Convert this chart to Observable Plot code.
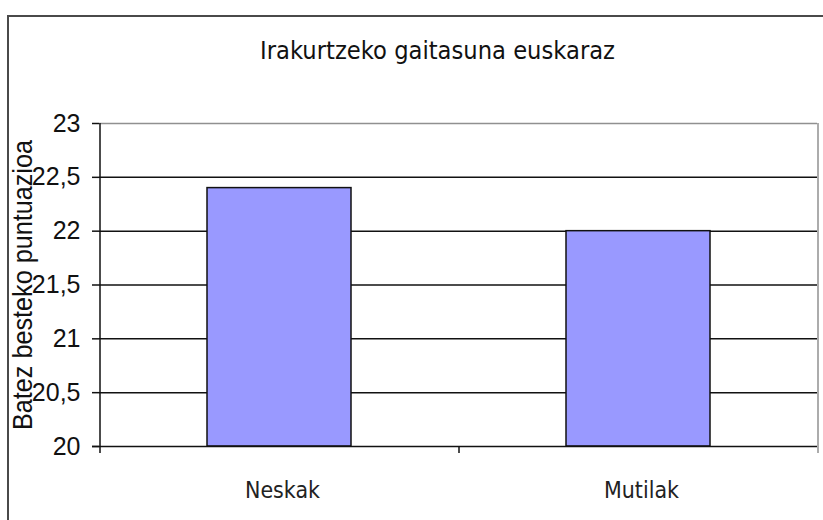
<!DOCTYPE html>
<html>
<head>
<meta charset="utf-8">
<script src="https://cdn.jsdelivr.net/npm/d3@7"></script>
<script src="https://cdn.jsdelivr.net/npm/@observablehq/plot@0.6"></script>
<style>
  html, body { margin: 0; padding: 0; background: #fff; overflow: hidden; }
  #wrap { position: relative; width: 823px; height: 520px; }
  #frame { position: absolute; left: 7px; top: 15px; width: 900px; height: 600px;
           border-left: 2px solid #4a4a4a; border-top: 2px solid #4a4a4a; pointer-events: none; }
</style>
</head>
<body>
<div id="wrap"><div id="frame"></div></div>
<script>
const title = "Irakurtzeko gaitasuna euskaraz";
const yLabel = "Batez besteko puntuazioa";
const categories = ["Neskak", "Mutilak"];
const values = [22.4, 22.0];
const yTicks = [20, 20.5, 21, 21.5, 22, 22.5, 23];
const yTickLabels = ["20", "20,5", "21", "21,5", "22", "22,5", "23"];
const gridValues = [20.5, 21, 21.5, 22, 22.5];

const data = categories.map((c, i) => ({category: c, value: values[i]}));
const half = 179.5; // half category step in px

const chart = Plot.plot({
  width: 823,
  height: 520,
  marginLeft: 99,
  marginRight: 6,
  marginTop: 123,
  marginBottom: 74,
  style: {background: "white", fontFamily: "Liberation Sans, Arial, sans-serif", color: "black"},
  x: {type: "band", domain: categories, paddingInner: 0.6, paddingOuter: 0.3},
  y: {domain: [20, 23]},
  marks: [
    Plot.ruleY(gridValues, {stroke: "#111", strokeWidth: 1.5}),
    Plot.ruleY([23], {stroke: "#909090", strokeWidth: 1.5}),
    Plot.ruleX([categories[1]], {dx: half, y1: 23, y2: 20, insetBottom: -7, stroke: "#909090", strokeWidth: 1.5}),
    Plot.barY(data, {x: "category", y1: 20, y2: "value", fill: "#9999FF", stroke: "#111", strokeWidth: 1.5}),
    Plot.ruleY([20], {insetLeft: -7, stroke: "#111", strokeWidth: 1.5}),
    Plot.ruleX([categories[0]], {dx: -half, y1: 23, y2: 20, insetBottom: -7, stroke: "#111", strokeWidth: 1.5}),
    Plot.ruleX([categories[1]], {dx: -half, y1: 20, y2: 20, insetBottom: -7, stroke: "#111", strokeWidth: 1.5}),
    Plot.axisY(yTicks, {tickSize: 7, tickPadding: 12, tickFormat: d => yTickLabels[yTicks.indexOf(d)],
      fontSize: 25, fontFamily: "Liberation Sans, Arial, sans-serif", stroke: "#111", strokeWidth: 1.5, fill: "#111", label: null}),
    Plot.axisX({tickSize: 0, tickPadding: 35, dx: 3, fontSize: 23, fontFamily: "DejaVu Sans, sans-serif", fill: "#222", label: null}),
    Plot.text([title], {frameAnchor: "top", textAnchor: "middle", lineAnchor: "middle", dx: -21, dy: -71.7,
      fontSize: 24, fontFamily: "DejaVu Sans, sans-serif", fill: "#111"}),
    Plot.text([yLabel], {frameAnchor: "left", textAnchor: "middle", lineAnchor: "middle", rotate: -90, dx: -76,
      fontSize: 28, fontFamily: "Liberation Sans, Arial, sans-serif", fill: "#111"})
  ]
});

document.getElementById("wrap").insertBefore(chart, document.getElementById("frame"));

const svg = d3.select(chart);
const fit = (txt, len) => svg.selectAll("text").filter(function() { return this.textContent === txt; })
  .attr("textLength", len).attr("lengthAdjust", "spacingAndGlyphs");
fit(title, 355);
fit(yLabel, 290);
categories.forEach(c => fit(c, 75));
</script>
</body>
</html>
